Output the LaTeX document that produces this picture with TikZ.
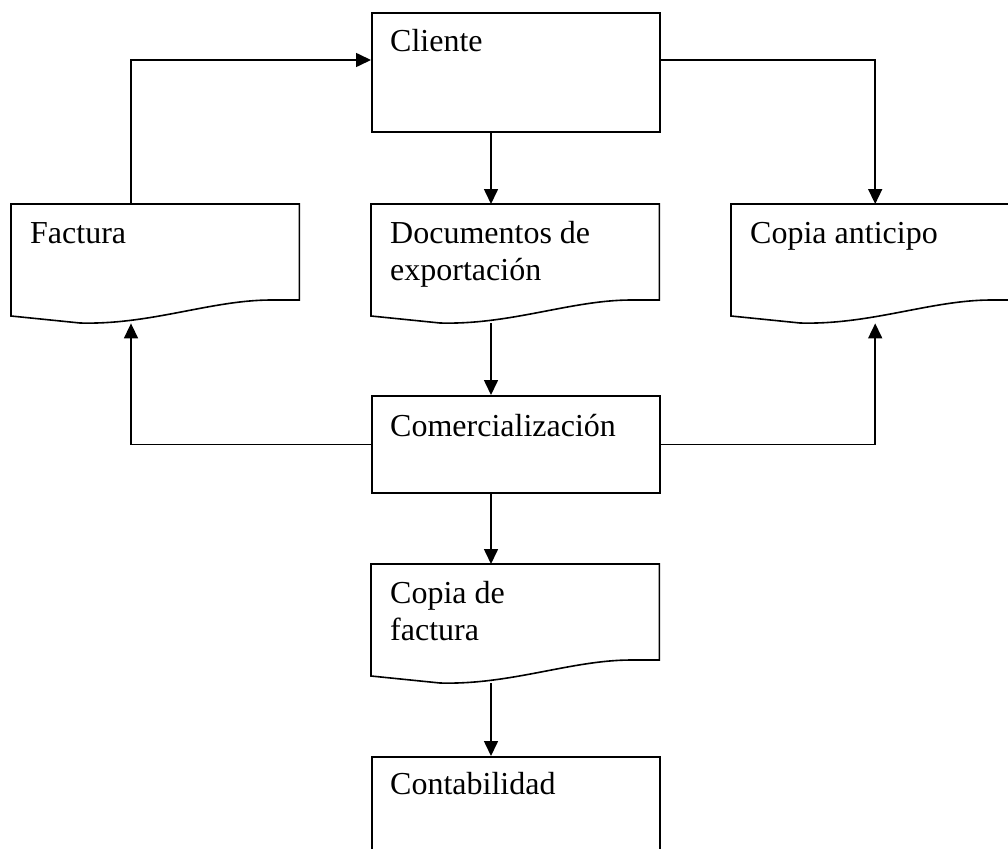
\documentclass[tikz,border=0pt]{standalone}
\usepackage{fontspec}
\setmainfont{Liberation Serif}
\usetikzlibrary{arrows.meta,calc}

% outline of a document symbol: flat top, wavy bottom edge
\newcommand\docoutline[1]{%
  \draw[line] (#1.north west) -- (#1.north east)
    -- ($(#1.north east)+(0,96)$) -- ($(#1.north east)+(-28,96)$)
    .. controls ($(#1.north west)+(200,96)$) and ($(#1.north west)+(140,121)$)
    .. ($(#1.north west)+(69,119)$) -- ($(#1.north west)+(0,112)$) -- cycle;}

\begin{document}
\begin{tikzpicture}[x=1pt,y=-1pt,
  line/.style={line width=1.6pt, line join=miter},
  arr/.style={line, -{Triangle[length=15pt,width=14pt]}},
  procbox/.style={rectangle, draw, line width=1.6pt, inner sep=0pt,
    minimum width=288pt, anchor=north west},
  docbox/.style={rectangle, inner sep=0pt, minimum width=288pt,
    minimum height=119pt, anchor=north west},
  lbl/.style={inner sep=0pt, anchor=base west,
    font=\fontsize{32}{37}\selectfont},
]
\clip (0,0) rectangle (1008,848);
\fill[white] (0,0) rectangle (1008,848);

% process boxes and documents
\node[procbox, minimum height=119pt] (cli) at (371,12) {};
\node[docbox] (fact) at (11,204) {};
\node[docbox] (expo) at (371,204) {};
\node[docbox] (anti) at (731,204) {};
\node[procbox, minimum height=97pt] (com) at (371,395) {};
\node[docbox] (copf) at (371,564) {};
\node[procbox, minimum height=119pt] (cont) at (371,756) {};

\docoutline{fact}
\docoutline{expo}
\docoutline{anti}
\docoutline{copf}

% labels
\node[lbl] (tcli)  at ($(cli.north west)+(19,40)$) {Cliente};
\node[lbl] (tfact) at ($(fact.north west)+(19,39)$) {Factura};
\node[lbl] (texpo) at ($(expo.north west)+(19,39)$) {\parbox[t]{260pt}{Documentos de\\exportación}};
\node[lbl] (tanti) at ($(anti.north west)+(19,39)$) {Copia anticipo};
\node[lbl] (tcom)  at ($(com.north west)+(19,41)$) {Comercialización};
\node[lbl] (tcopf) at ($(copf.north west)+(19,39)$) {\parbox[t]{260pt}{Copia de\\factura}};
\node[lbl] (tcont) at ($(cont.north west)+(19,38)$) {Contabilidad};

% connector columns and rows
\coordinate (colL) at (131,0);
\coordinate (colC) at (491,0);
\coordinate (yloop) at (0,60);

\draw[arr] (cli.south -| colC) -- (expo.north -| colC);
\draw[arr] (expo.south -| colC) -- (com.north -| colC);
\draw[arr] (com.south -| colC) -- (copf.north -| colC);
\draw[arr] (copf.south -| colC) -- (cont.north -| colC);

\draw[arr] (fact.north -| colL) |- (cli.west |- yloop);
\draw[arr] (cli.east |- yloop) -| (anti.north);
\draw[arr] (com.west) -| (fact.south -| colL);
\draw[arr] (com.east) -| (anti.south);
\end{tikzpicture}
\end{document}
